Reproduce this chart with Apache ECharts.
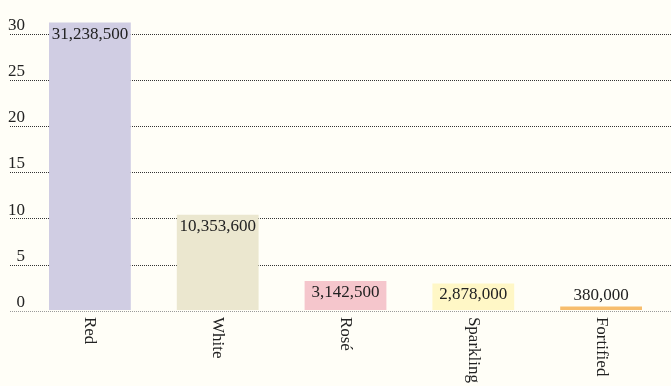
<!DOCTYPE html>
<html>
<head>
<meta charset="utf-8">
<script src="https://cdn.jsdelivr.net/npm/echarts@6/dist/echarts.min.js"></script>
<style>
  html, body { margin: 0; padding: 0; background: #fffef7; }
  #chart { width: 671px; height: 386px; }
</style>
</head>
<body>
<div id="chart"></div>
<script>
// Wine production by type (millions on the axis, full figures on the bars)
const categories = ['Red', 'White', 'Rosé', 'Sparkling', 'Fortified'];
const volumes = [31238500, 10353600, 3142500, 2878000, 380000];
const barColors = ['#d0cde3', '#ebe7cf', '#f5c6cc', '#fff7c6', '#f7bd6c'];
const yTicks = [0, 5, 10, 15, 20, 25, 30];

const serif = '"Liberation Serif", "DejaVu Serif", serif';
const fmt = v => v.toLocaleString('en-US');

const chart = echarts.init(document.getElementById('chart'), null, { renderer: 'canvas' });

const barData = volumes.map((v, i) => ({
  value: v / 1e6,
  raw: v,
  itemStyle: { color: barColors[i] },
  label: v / 1e6 < 2 ? { position: 'top', distance: 2 } : undefined
}));

chart.setOption({
  backgroundColor: '#fffef7',
  animation: false,
  grid: [
    { left: 10, right: 0, top: 34, bottom: 75 },
    { left: 26, right: 6, top: 34, bottom: 75 }
  ],
  xAxis: [
    { gridIndex: 0, type: 'value', min: 0, max: 1, show: false },
    {
      gridIndex: 1, type: 'category', data: categories,
      axisLine: { show: false }, axisTick: { show: false },
      axisLabel: {
        rotate: -90, margin: 7, color: '#222',
        fontFamily: serif, fontSize: 17
      }
    }
  ],
  yAxis: [
    {
      gridIndex: 0, type: 'value', min: yTicks[0], max: yTicks[yTicks.length - 1], interval: 5,
      axisLine: { show: false }, axisTick: { show: false },
      axisLabel: {
        inside: true, margin: 15, align: 'right', verticalAlign: 'bottom',
        color: '#222', fontFamily: serif, fontSize: 17
      },
      splitLine: {
        show: true,
        lineStyle: { type: [1, 1], width: 1, color: ['#9a9a9a', '#333', '#333', '#333', '#333', '#333', '#333'] }
      }
    },
    {
      gridIndex: 1, type: 'value', min: yTicks[0], max: yTicks[yTicks.length - 1], interval: 5,
      show: false, splitLine: { show: false }
    }
  ],
  series: [{
    type: 'bar',
    xAxisIndex: 1, yAxisIndex: 1,
    data: barData,
    barWidth: '64%',
    clip: false,
    z: 3,
    label: {
      show: true, position: 'insideTop', distance: 3,
      color: '#222', fontFamily: serif, fontSize: 17,
      formatter: p => fmt(p.data.raw)
    }
  }]
});
</script>
</body>
</html>
